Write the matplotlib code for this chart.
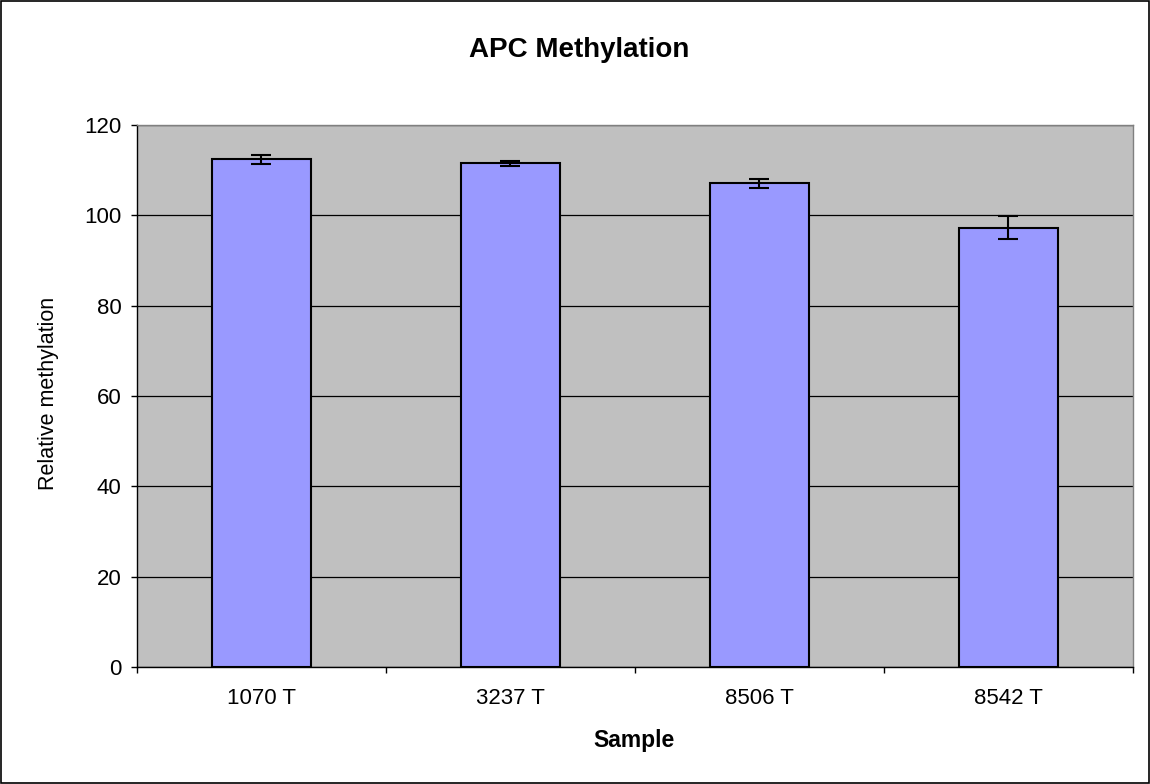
import matplotlib
matplotlib.use("Agg")
import matplotlib.pyplot as plt
from matplotlib.patches import Rectangle

categories = ["1070 T", "3237 T", "8506 T", "8542 T"]
values = [112.4, 111.5, 107.1, 97.3]
errors = [1.0, 0.55, 0.95, 2.5]
yticks = [0, 20, 40, 60, 80, 100, 120]

plt.rcParams['font.family'] = ['Liberation Sans', 'DejaVu Sans']

fig = plt.figure(figsize=(11.5, 7.84), dpi=100)
fig.patch.set_facecolor("white")
fig.patches.append(Rectangle((0.0005, 0.0007), 0.9985, 0.998, transform=fig.transFigure,
                             fill=False, edgecolor="black", linewidth=1.2))

ax = fig.add_axes([0.1191, 0.1492, 0.8661, 0.6914])
ax.set_facecolor("#C0C0C0")
x = list(range(len(categories)))
ax.bar(x, values, width=0.4, color="#9999FF", edgecolor="black", linewidth=1.5, zorder=3)
ax.errorbar(x, values, yerr=errors, fmt="none", ecolor="black", elinewidth=1.5,
            capsize=7, capthick=1.5, zorder=4)

ax.set_xlim(-0.5, len(categories) - 0.5)
ax.set_ylim(0, 120)
ax.set_yticks(yticks)
ax.yaxis.grid(True, color="black", linewidth=0.9, zorder=1)
ax.set_axisbelow(True)
ax.tick_params(axis="y", direction="out", length=4.3, width=1, labelsize=16, pad=7)
ax.set_xticks(x)
ax.set_xticklabels(categories)
ax.tick_params(axis="x", which="major", length=0, labelsize=16, pad=15)
ax.set_xticks([i - 0.5 for i in range(len(categories) + 1)], minor=True)
ax.tick_params(axis="x", which="minor", direction="out", length=4.3, width=1)

for s in ["top", "right"]:
    ax.spines[s].set_color("#808080")
    ax.spines[s].set_linewidth(1)
for s in ["left", "bottom"]:
    ax.spines[s].set_color("black")
    ax.spines[s].set_linewidth(1)

fig.text(0.042, 0.4987, "Relative methylation", rotation=90, ha="center", va="center",
         fontsize=15.5)
fig.text(0.5517, 0.0472, "Sample", ha="center", va="baseline",
         fontsize=16.5, fontweight="bold")
fig.text(0.5035, 0.9273, "APC Methylation", ha="center", va="baseline",
         fontsize=20, fontweight="bold")

fig.savefig("out.png", dpi=100, facecolor=fig.get_facecolor())
